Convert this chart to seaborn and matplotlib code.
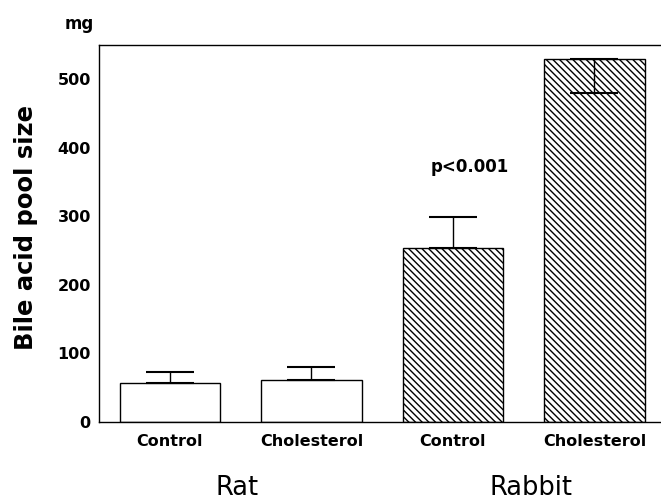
import numpy as np
import pandas as pd
import matplotlib
matplotlib.use("Agg")
import matplotlib.pyplot as plt
import seaborn as sns

# data
groups = ["Rat", "Rat", "Rabbit", "Rabbit"]
diets = ["Control", "Cholesterol", "Control", "Cholesterol"]
pool_size = [57, 61, 254, 529]
err_up = [16, 19, 45, 0]
err_down = [0, 0, 0, 49]
hatched = [False, False, True, True]

df = pd.DataFrame({"bar": [g + " " + d for g, d in zip(groups, diets)],
                   "diet": diets, "group": groups, "mg": pool_size})

sns.set_style("white")
plt.rcParams["font.family"] = ["DejaVu Sans"]
plt.rcParams["hatch.linewidth"] = 1.0
for key in ["text.color", "axes.labelcolor", "xtick.color", "ytick.color"]:
    plt.rcParams[key] = "black"

fig = plt.figure(figsize=(6.61, 5.01), dpi=100)
ax = fig.add_axes([0.150, 0.158, 0.852, 0.752])

sns.barplot(data=df, x="bar", y="mg", color="white", edgecolor="black",
            linewidth=1.0, width=0.71, errorbar=None, ax=ax)
for patch, h in zip(ax.patches, hatched):
    patch.set_facecolor("white")
    if h:
        patch.set_hatch("\\\\\\\\\\")

ax.errorbar(np.arange(len(pool_size)), pool_size, yerr=[err_down, err_up],
            fmt="none", ecolor="black", elinewidth=1.0, capsize=17, capthick=1.5)

ax.set_xlim(-0.5, 3.48)
ax.set_ylim(0, 550)
ax.set_yticks([0, 100, 200, 300, 400, 500])
ax.set_xticks(range(4))
ax.set_xticklabels(diets, fontsize=11.5, fontweight="bold")
for t in ax.get_yticklabels():
    t.set_fontsize(11.5)
    t.set_fontweight("bold")
ax.tick_params(axis="y", length=0, pad=6)
ax.tick_params(axis="x", length=0, pad=9)
ax.set_xlabel("")
ax.set_ylabel("Bile acid pool size", fontsize=17.5, fontweight="bold")
ax.yaxis.set_label_coords(-0.108, 0.515)

for side in ["top", "bottom", "left"]:
    ax.spines[side].set_visible(True)
    ax.spines[side].set_color("black")
    ax.spines[side].set_linewidth(1.0)
ax.spines["right"].set_visible(False)

ax.text(2.12, 372, "p<0.001", ha="center", va="center", fontsize=12, fontweight="bold")
ax.text(0.475, -0.193, "Rat", transform=ax.get_xaxis_transform(), ha="center",
        va="baseline", fontsize=18.5)
ax.text(2.55, -0.193, "Rabbit", transform=ax.get_xaxis_transform(), ha="center",
        va="baseline", fontsize=18.5)
fig.text(79 / 661, 1 - 24 / 501, "mg", ha="center", va="center", fontsize=12,
         fontweight="bold")

fig.savefig("out.png", dpi=100)
